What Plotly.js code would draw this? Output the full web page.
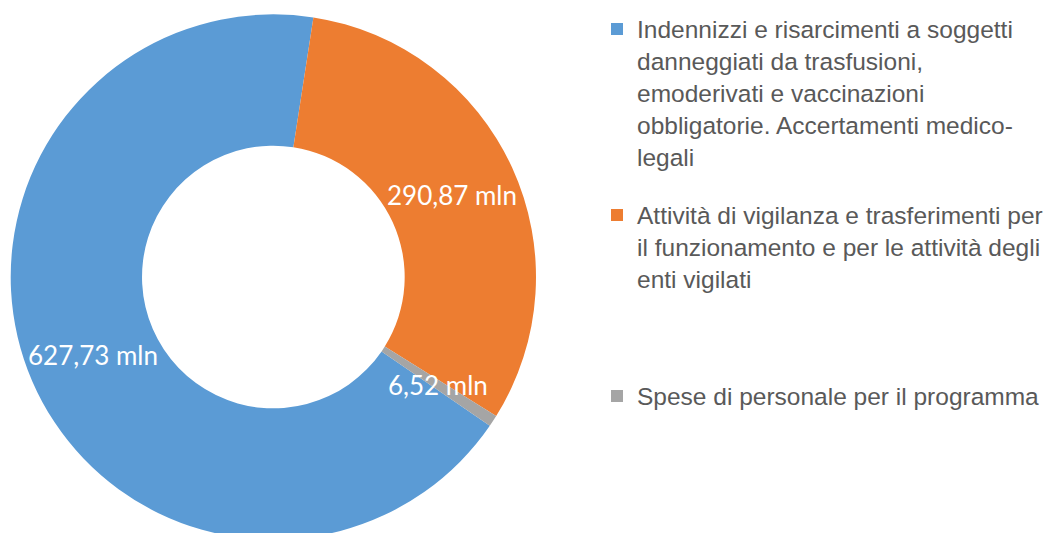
<!DOCTYPE html>
<html><head><meta charset="utf-8">
<script src="https://cdn.plot.ly/plotly-3.0.1.min.js"></script>
<style>html,body{margin:0;padding:0;overflow:hidden;background:#fff}#c{width:1048px;height:540px}</style>
</head><body><div id="c"></div>
<script>
const labels = [
  "Indennizzi e risarcimenti a soggetti<br>danneggiati da trasfusioni,<br>emoderivati e vaccinazioni<br>obbligatorie. Accertamenti medico-<br>legali",
  "Attività di vigilanza e trasferimenti per<br>il funzionamento e per le attività degli<br>enti vigilati",
  "Spese di personale per il programma"
];
const values = [627.73, 290.87, 6.52];
const valueText = ["627,73 mln", "290,87 mln", "6,52 mln"];
const colors = ["#5B9BD5", "#ED7D31", "#A5A5A5"];

const W = 1048, H = 540;
const dom = {x: [10.7 / W, 536 / W], y: [0, 1 - 14 / H]};
const rotation = 124.5, hole = 0.5;
const labelFont = {family: 'Lato, sans-serif', size: 26, color: '#ffffff'};
const legendFont = {family: '"Liberation Sans", Arial, sans-serif', size: 24.5, color: '#595959'};

const traces = [{
  type: 'pie',
  labels: labels,
  values: values,
  text: valueText,
  textinfo: 'none',
  hole: hole,
  sort: false,
  direction: 'clockwise',
  rotation: rotation,
  marker: {colors: colors, line: {width: 0}},
  domain: dom,
  hoverinfo: 'none',
  showlegend: false
}];

// legend entries (one legend per category so spacing can follow the reference)
const legendTops = [6.5, 192.5, 373.5];
const legendNames = ['legend', 'legend2', 'legend3'];
labels.forEach((lab, i) => {
  traces.push({
    type: 'scatter', mode: 'markers', x: [null], y: [null],
    name: lab, legend: legendNames[i], showlegend: true,
    marker: {symbol: 'square', size: 12, color: colors[i]},
    hoverinfo: 'none'
  });
});

const layout = {
  width: W, height: H,
  margin: {l: 0, r: 0, t: 0, b: 0},
  xaxis: {visible: false}, yaxis: {visible: false},
  paper_bgcolor: '#ffffff', plot_bgcolor: 'rgba(0,0,0,0)',
  annotations: []
};
legendNames.forEach((ln, i) => {
  layout[ln] = {
    x: 597 / W, y: 1 - legendTops[i] / H, xanchor: 'left', yanchor: 'top',
    valign: 'top', font: legendFont, itemwidth: 30, bgcolor: 'rgba(0,0,0,0)'
  };
});

// value labels placed at each slice's mid-angle, mid-ring radius
const total = values.reduce((a, b) => a + b, 0);
const cxPx = (dom.x[0] + dom.x[1]) / 2 * W;
const rPx = Math.min((dom.x[1] - dom.x[0]) * W, (dom.y[1] - dom.y[0]) * H) / 2;
const cyPx = H - (dom.y[0] + dom.y[1]) / 2 * H;
let cum = 0;
values.forEach((v, i) => {
  const mid = cum + v / 2;
  cum += v;
  const ang = (rotation + 360 * mid / total) * Math.PI / 180;
  const rm = rPx * (1 + hole) / 2;
  layout.annotations.push({
    xref: 'paper', yref: 'paper',
    x: (cxPx + rm * Math.sin(ang)) / W,
    y: 1 - (cyPx - rm * Math.cos(ang)) / H,
    text: valueText[i], showarrow: false, font: labelFont,
    xanchor: 'center', yanchor: 'middle'
  });
});

Plotly.newPlot('c', traces, layout, {displayModeBar: false, staticPlot: true});
</script></body></html>
